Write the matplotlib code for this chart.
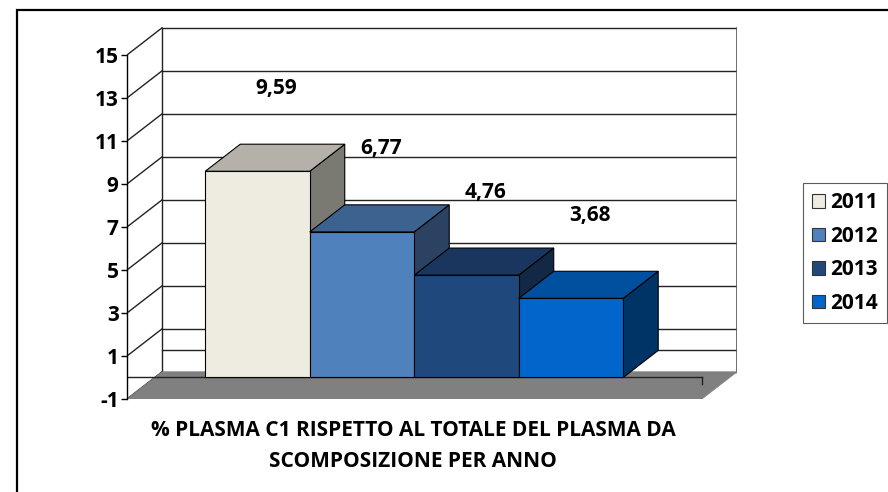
import matplotlib
matplotlib.use("Agg")
from matplotlib import pyplot as plt
from matplotlib.patches import Polygon, Patch, Rectangle

# data
years = ["2011", "2012", "2013", "2014"]
values = [9.59, 6.77, 4.76, 3.68]
front_col = ["#EEECE1", "#4F81BD", "#1F497D", "#0066CC"]
top_col = ["#B5B1A8", "#3C6290", "#1A365E", "#00509F"]
side_col = ["#7B7A72", "#2B4262", "#132845", "#003466"]
yticks = list(range(-1, 16, 2))
title = "% PLASMA C1 RISPETTO AL TOTALE DEL PLASMA DA\nSCOMPOSIZIONE PER ANNO"

plt.rcParams['font.family'] = ['Open Sans', 'DejaVu Sans']
FS = 15

fig = plt.figure(figsize=(8.88, 4.92), dpi=100)
# outer border of the chart area
fig.patches.append(Rectangle((17 / 888, -0.05), 1.1, 1 - 10 / 492 + 0.05,
                             transform=fig.transFigure, fill=False,
                             edgecolor="black", lw=1.6))

ax = fig.add_axes([127 / 888, 1 - 399 / 492, 610 / 888, 372 / 492])
x0, x1 = -1.249, 4.589
ymin, ymax = -1, 16.3
ax.set_xlim(x0, x1)
ax.set_ylim(ymin, ymax)

# depth offset of the fake 3d
ddx = 0.335
ddy = 1.26
bx0 = x0 + ddx
fx1 = x1 - ddx

# back wall grid
for v in yticks + [0]:
    ax.plot([bx0, x1], [v + ddy, v + ddy], color="#222222", lw=1, zorder=1)
ax.plot([bx0, bx0], [-1 + ddy, 15 + ddy], color="#222222", lw=1, zorder=1)
ax.plot([x1, x1], [-1 + ddy, 15 + ddy], color="#555555", lw=1.2, zorder=1)
# side wall diagonals
for v in yticks:
    ax.plot([x0, bx0], [v, v + ddy], color="#222222", lw=1, zorder=1)

# floor
ax.add_patch(Polygon([(x0, -1), (fx1, -1), (x1, -1 + ddy), (bx0, -1 + ddy)],
                     closed=True, facecolor="#808080", edgecolor="#808080",
                     lw=0.5, zorder=2))
ax.plot([x0, fx1], [0, 0], color="#222222", lw=1, zorder=2)
ax.plot([fx1, fx1], [0, -0.3], color="#222222", lw=1, zorder=2)

# bars, drawn left to right so each one hides the previous side face
for i, h in enumerate(values):
    z = 3 + i
    ax.add_patch(Polygon([(i + 0.5, 0), (i + 0.5, h), (i + 0.5 + ddx, h + ddy),
                          (i + 0.5 + ddx, ddy)], closed=True,
                         facecolor=side_col[i], edgecolor="black", lw=0.8, zorder=z))
    ax.add_patch(Polygon([(i - 0.5, h), (i + 0.5, h), (i + 0.5 + ddx, h + ddy),
                          (i - 0.5 + ddx, h + ddy)], closed=True,
                         facecolor=top_col[i], edgecolor="black", lw=0.8, zorder=z))
    ax.bar(i, h, width=1.0, bottom=0, color=front_col[i], edgecolor="black",
           lw=0.8, zorder=z)
    ax.text(i + 0.18, h + ddy + 2.6, f"{h:.2f}".replace(".", ","),
            ha="center", va="center", fontsize=FS, fontweight="bold", zorder=10)

for s in ["top", "right", "bottom"]:
    ax.spines[s].set_visible(False)
ax.spines["left"].set_bounds(-1, 15)
ax.spines["left"].set_linewidth(1)
ax.set_xticks([])
ax.set_yticks(yticks)
ax.set_yticklabels([str(t) for t in yticks], fontsize=FS, fontweight="bold")
ax.tick_params(axis="y", length=4, width=1, pad=2)
ax.patch.set_visible(False)

fig.text(413 / 888, 1 - 446 / 492, title, ha="center", va="center",
         fontsize=FS, fontweight="bold", linespacing=1.6)

handles = [Patch(facecolor=c, edgecolor="#333333", lw=0.8) for c in front_col]
leg = fig.legend(handles, years, loc="center left",
                 bbox_to_anchor=(803 / 888, 1 - 253 / 492),
                 frameon=True, fancybox=False, edgecolor="#333333",
                 prop={"size": FS, "weight": "bold"}, handlelength=0.6,
                 handleheight=0.6, handletextpad=0.25, labelspacing=0.6,
                 borderpad=0.45, borderaxespad=0)
leg.get_frame().set_linewidth(0.8)

fig.savefig("out.png", dpi=100)
